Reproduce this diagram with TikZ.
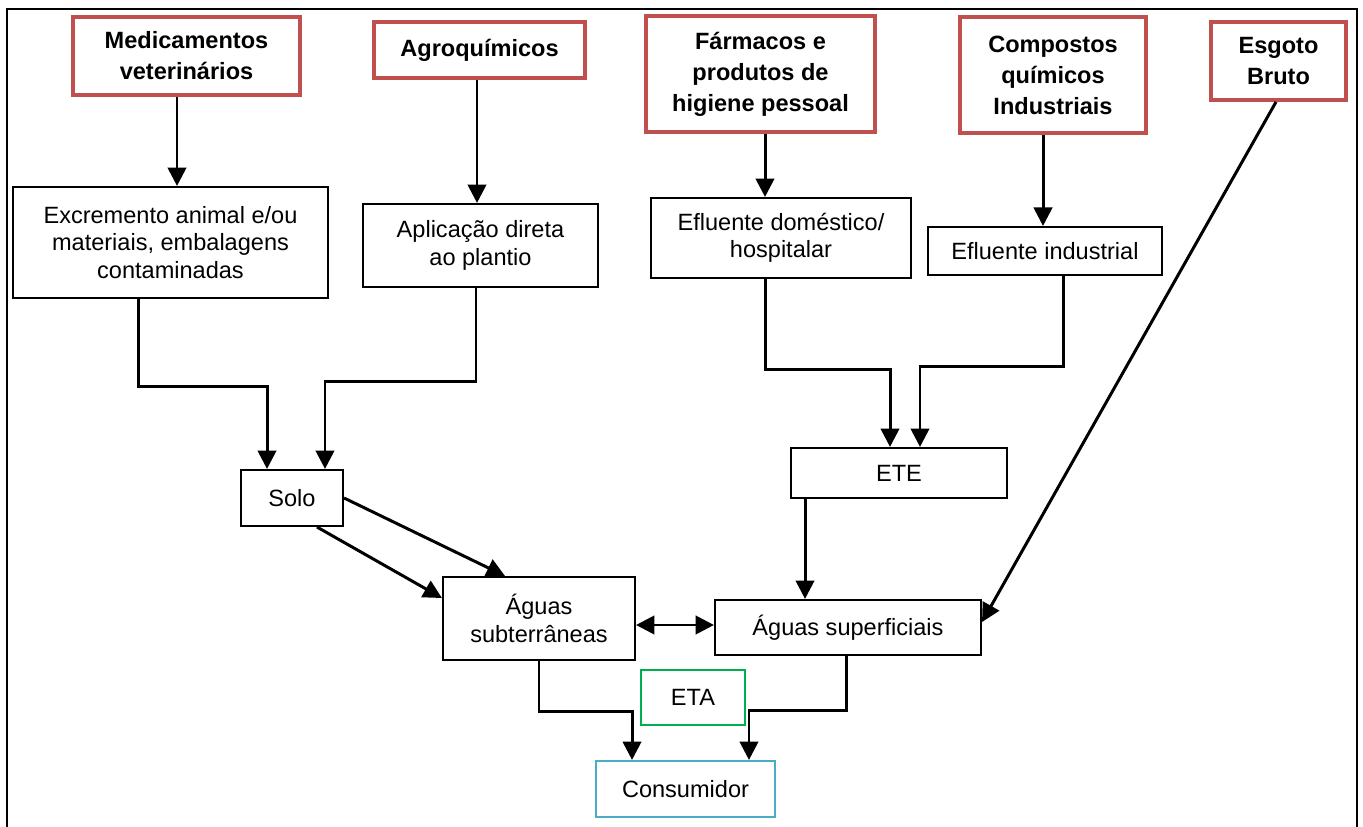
\documentclass[tikz,border=0pt]{standalone}
\usepackage{fontspec}
\setmainfont{Liberation Sans}
\usetikzlibrary{arrows.meta}
\definecolor{fontered}{RGB}{192,80,77}
\definecolor{etagreen}{RGB}{0,176,80}
\definecolor{conscyan}{RGB}{75,172,198}

\begin{document}
\begin{tikzpicture}[x=0.02cm, y=-0.02cm,
  every node/.style={font=\fontsize{13.4}{15.6}\selectfont, align=center, inner sep=0pt},
  fonte/.style={draw=fontered, line width=2.2pt, font=\fontsize{13.4}{17.6}\selectfont\bfseries},
  caixa/.style={draw, line width=1.2pt},
  seta/.style={-{Triangle[length=10.5pt,width=10.5pt]}, line width=1.7pt},
  setadupla/.style={{Triangle[length=10.5pt,width=10.5pt]}-{Triangle[length=10.5pt,width=10.5pt]}, line width=1.7pt}]
  \useasboundingbox (0,0) rectangle (1363,827);
  \draw[line width=1.3pt] (7,827) |- (1357,9) -- (1357,827);

  % fontes
  \node[fonte, minimum width=4.54cm, minimum height=1.56cm] (medvet) at (186.5,56) {Medicamentos\\veterinários};
  \node[fonte, minimum width=4.22cm, minimum height=1.12cm] (agro) at (479.5,50) {Agroquímicos};
  \node[fonte, minimum width=4.58cm, minimum height=2.32cm] (farm) at (760.5,74) {Fármacos e\\produtos de\\higiene pessoal};
  \node[fonte, minimum width=3.72cm, minimum height=2.32cm] (comp) at (1053,75) {Compostos\\químicos\\Industriais};
  \node[fonte, minimum width=2.70cm, minimum height=1.56cm] (esgoto) at (1278.5,61) {Esgoto\\Bruto};

  % vias
  \node[caixa, minimum width=6.30cm, minimum height=2.22cm] (excr) at (170.5,242.5) {Excremento animal e/ou\\materiais, embalagens\\contaminadas};
  \node[caixa, minimum width=4.70cm, minimum height=1.66cm] (aplic) at (480.5,245.5) {Aplicação direta\\ao plantio};
  \node[caixa, minimum width=5.20cm, minimum height=1.60cm] (efldom) at (781,238) {Efluente doméstico/\\hospitalar};
  \node[caixa, minimum width=4.68cm, minimum height=0.96cm] (eflind) at (1045,251) {Efluente industrial};
  \node[caixa, minimum width=2.04cm, minimum height=1.12cm] (solo) at (292,498) {Solo};
  \node[caixa, minimum width=4.32cm, minimum height=1.00cm] (ete) at (899,473) {ETE};
  \node[caixa, minimum width=3.84cm, minimum height=1.66cm] (subt) at (539,618.5) {Águas\\subterrâneas};
  \node[caixa, minimum width=5.32cm, minimum height=1.10cm] (superf) at (848,627.5) {Águas superficiais};
  \node[draw=etagreen, line width=1.2pt, minimum width=2.08cm, minimum height=1.10cm] (eta) at (693,697.5) {ETA};
  \node[draw=conscyan, line width=1.2pt, minimum width=3.58cm, minimum height=1.12cm] (cons) at (685.5,789) {Consumidor};

  % setas
  \draw[seta] ([xshift=-0.19cm]medvet.south) -- ([xshift=-0.19cm]medvet.south |- excr.north);
  \draw[seta] ([xshift=-0.05cm]agro.south) -- ([xshift=-0.05cm]agro.south |- aplic.north);
  \draw[seta] ([xshift=0.09cm]farm.south) -- ([xshift=0.09cm]farm.south |- efldom.north);
  \draw[seta] ([xshift=-0.2cm]comp.south) -- ([xshift=-0.2cm]comp.south |- eflind.north);
  \draw[seta] ([xshift=-0.65cm]excr.south) -- ++(0,87) -| ([xshift=-0.5cm]solo.north);
  \draw[seta] ([xshift=-0.09cm]aplic.south) -- ++(0,93) -| ([xshift=0.66cm]solo.north);
  \draw[seta] ([xshift=-0.32cm]efldom.south) -- ++(0,90) -| ([xshift=-0.18cm]ete.north);
  \draw[seta] ([xshift=0.36cm]eflind.south) -- ++(0,90) -| ([xshift=0.42cm]ete.north);
  \draw[seta] ([xshift=-0.05cm]esgoto.south) -- ([yshift=0.11cm]superf.east);
  \draw[seta] (solo.east) -- ([xshift=-0.68cm]subt.north);
  \draw[seta] ([xshift=0.5cm]solo.south) -- ([yshift=0.41cm]subt.west);
  \draw[seta] ([xshift=-1.88cm]ete.south) -- ([xshift=-1.88cm]ete.south |- superf.north);
  \draw[setadupla] ([yshift=-0.13cm]subt.east) -- ([yshift=-0.13cm]subt.east -| superf.west);
  \draw[seta] (subt.south) -- ++(0,50) -| ([xshift=-1.07cm]cons.north);
  \draw[seta] ([xshift=-0.04cm]superf.south) -- ++(0,54) -| ([xshift=1.27cm]cons.north);
\end{tikzpicture}
\end{document}
